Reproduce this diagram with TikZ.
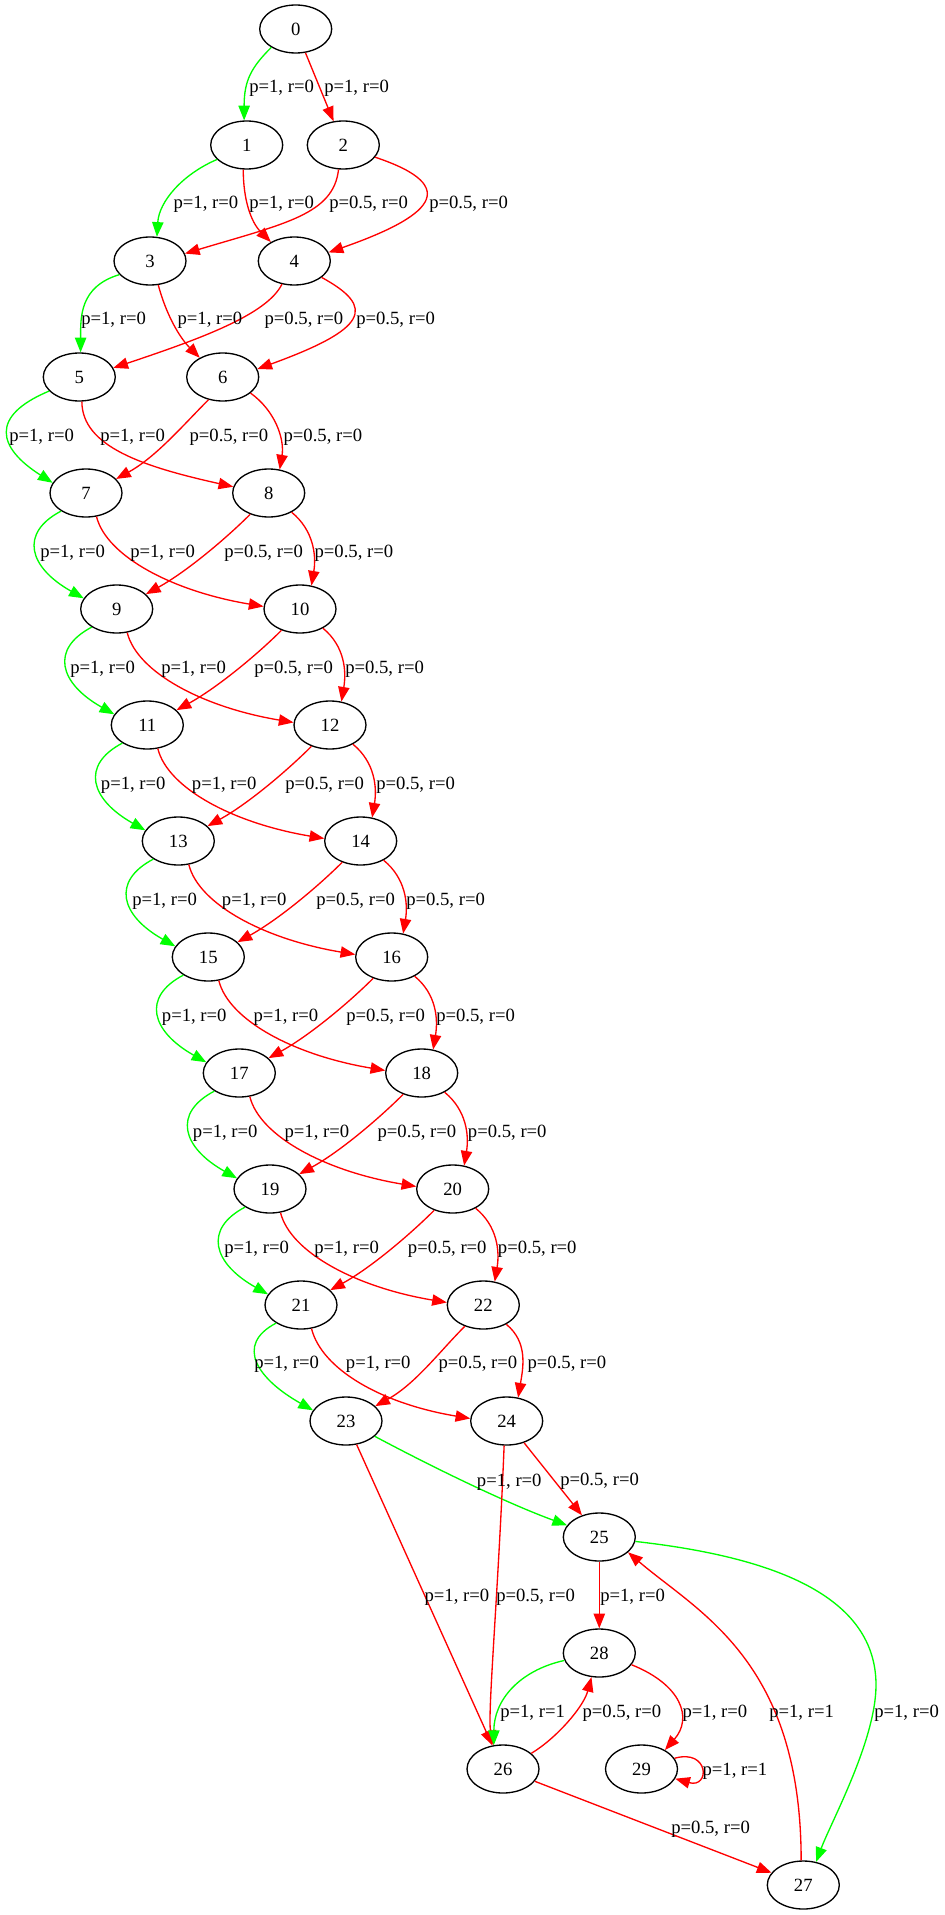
\documentclass[tikz,border=0pt]{standalone}
\usepackage{fontspec}
\setmainfont{Liberation Serif}
\usetikzlibrary{shapes.geometric,arrows.meta}
\newcommand\lfs{\fontsize{14}{17}\selectfont}
\tikzset{
  st/.style={ellipse, draw=black, line width=1pt, minimum width=54pt, minimum height=36pt, inner sep=0pt, font=\lfs},
  ge/.style={color=green, line width=1pt, -{Triangle[length=11pt,width=8.5pt]}},
  re/.style={color=red, line width=1pt, -{Triangle[length=11pt,width=8.5pt]}},
  lb/.style={anchor=base west, inner sep=0pt, font=\lfs}
}
\begin{document}
\begin{tikzpicture}[x=0.75pt,y=-0.75pt]
\useasboundingbox (0,0) rectangle (945,1915);
% nodes
\node[st] (n0) at (295.7,29) {0};
\node[st] (n1) at (246.7,145) {1};
\node[st] (n2) at (343.3,145) {2};
\node[st] (n3) at (150,261) {3};
\node[st] (n4) at (294.3,261) {4};
\node[st] (n5) at (79.3,377) {5};
\node[st] (n6) at (222.7,377) {6};
\node[st] (n7) at (86,493) {7};
\node[st] (n8) at (268.7,493) {8};
\node[st] (n9) at (116.7,609) {9};
\node[st] (n10) at (300,609) {10};
\node[st] (n11) at (147.3,725) {11};
\node[st] (n12) at (330,725) {12};
\node[st] (n13) at (178.3,841) {13};
\node[st] (n14) at (360.7,841) {14};
\node[st] (n15) at (208.3,957) {15};
\node[st] (n16) at (391.7,957) {16};
\node[st] (n17) at (239.3,1073) {17};
\node[st] (n18) at (421.7,1073) {18};
\node[st] (n19) at (270,1189) {19};
\node[st] (n20) at (452.7,1189) {20};
\node[st] (n21) at (301,1305) {21};
\node[st] (n22) at (483.3,1305) {22};
\node[st] (n23) at (346,1421) {23};
\node[st] (n24) at (506.7,1421) {24};
\node[st] (n25) at (599.3,1537) {25};
\node[st] (n28) at (599.3,1653) {28};
\node[st] (n26) at (503,1769) {26};
\node[st] (n29) at (641.5,1769) {29};
\node[st] (n27) at (803.3,1885) {27};
\coordinate (k25) at (876,1685);
% top special edges
\draw[ge] (n0.217) .. controls +(-20,20) and +(0,-40) .. (n1.96);
\draw[re] (n0) -- (n2);
\draw[ge] (n1.206) .. controls +(-35,15) and +(2,-35) .. (n3.74);
\draw[re] (n1.262) .. controls +(0,30) and +(-20,-20) .. (n4.141);
\draw[re] (n2.259) .. controls +(-5,45) and +(100,-30) .. (n3.12);
\draw[re] (n2.339) .. controls +(90,30) and +(100,-35) .. (n4.14);
\draw[ge] (n3.204) .. controls +(-40,12) and +(0,-35) .. (n5.87);
\draw[re] (n3.289) .. controls +(8,30) and +(-20,-20) .. (n6.140);
\draw[re] (n4.242) .. controls +(-15,30) and +(90,-30) .. (n5.15);
\draw[re] (n4.329) .. controls +(55,30) and +(110,-40) .. (n6.13);
\draw[ge] (n5.205) .. controls +(-60,25) and +(-55,-35) .. (n7.163);
\draw[re] (n5.276) .. controls +(0,45) and +(-90,-20) .. (n8.170);
\draw[re] (n6.238) .. controls +(-25,25) and +(40,-22) .. (n7.25);
\draw[re] (n6.330) .. controls +(25,18) and +(5,-30) .. (n8.65);
% repeated lattice
\foreach \a/\b/\c/\d in {7/8/9/10,9/10/11/12,11/12/13/14,13/14/15/16,15/16/17/18,17/18/19/20,19/20/21/22,21/22/23/24}{
  \draw[ge] (n\a.216) .. controls +(-42,22) and +(-55,-31) .. (n\c.162);
  \draw[re] (n\a.294) .. controls +(10,40) and +(-90,-15) .. (n\d.176);
  \draw[re] (n\b.229) .. controls +(-25,25) and +(40,-22) .. (n\c.27);
  \draw[re] (n\b.320) .. controls +(22,18) and +(5,-30) .. (n\d.64);
}
% bottom
\draw[ge] (n23.332) .. controls +(60,32) and +(-60,-22) .. (n25.160);
\draw[re] (n23) -- (n26);
\draw[re] (n24) -- (n25);
\draw[re] (n24.264) .. controls +(-6,150) and +(-6,-30) .. (n26.112);
\draw[re] (n25) -- (n28);
\draw[ge] (n28.192) .. controls +(-45,10) and +(0,-45) .. (n26.111);
\draw[re] (n26.29) .. controls +(25,-15) and +(-8,30) .. (n28.252);
\draw[re] (n28.340) .. controls +(50,20) and +(28,-32) .. (n29.39);
\draw[re] (n29.18) .. controls +(35,-10) and +(35,10) .. (n29.-16);
\draw[re] (n27.95) .. controls +(0,-200) and +(70,60) .. (n25.332);
\draw[ge] (n25.353) .. controls +(124,14) and +(0,-95) .. (k25) .. controls +(0,55) and +(15,-40) .. (n27.61);
\draw[re] (n26) -- (n27);
% labels
\node[lb] (l01) at (249,93) {p=1, r=0};
\node[lb] (l02) at (324,93) {p=1, r=0};
\node[lb] (l13) at (173.3,209) {p=1, r=0};
\node[lb] (l14) at (249,209) {p=1, r=0};
\node[lb] (l23) at (329,209) {p=0.5, r=0};
\node[lb] (l24) at (429,209) {p=0.5, r=0};
\node[lb] (l35) at (81,325) {p=1, r=0};
\node[lb] (l36) at (177.3,325) {p=1, r=0};
\node[lb] (l45) at (264.3,325) {p=0.5, r=0};
\node[lb] (l46) at (356,325) {p=0.5, r=0};
\node[lb] (l57) at (9,441) {p=1, r=0};
\node[lb] (l58) at (100,441) {p=1, r=0};
\node[lb] (l67) at (189.3,441) {p=0.5, r=0};
\node[lb] (l68) at (283.3,441) {p=0.5, r=0};
\foreach \y/\g/\p/\c/\s in {551/40/130/224/314.3,667/70/161/254/345,783/100.7/191.7/285/376,899/132/221.7/316/406,1015/161.7/253.3/346/436,1131/192.7/284.3/377.3/467.7,1247/224/314/407.7/497.7,1362/254/345.7/438.3/527.3}{
  \node[lb] (lg\y) at (\g,{\y+6}) {p=1, r=0};
  \node[lb] (lp\y) at (\p,{\y+6}) {p=1, r=0};
  \node[lb] (lc\y) at (\c,{\y+6}) {p=0.5, r=0};
  \node[lb] (ls\y) at (\s,{\y+6}) {p=0.5, r=0};
}
\node[lb] (l2325) at (476.7,1486) {p=1, r=0};
\node[lb] (l2425) at (560,1485) {p=0.5, r=0};
\node[lb] (l2326) at (424.3,1601) {p=1, r=0};
\node[lb] (l2426) at (496,1601) {p=0.5, r=0};
\node[lb] (l2528) at (600,1601) {p=1, r=0};
\node[lb] (l2826) at (500,1717) {p=1, r=1};
\node[lb] (l2628) at (582.3,1717) {p=0.5, r=0};
\node[lb] (l2829) at (682.3,1717) {p=1, r=0};
\node[lb] (l2725) at (769,1717) {p=1, r=1};
\node[lb] (l2527) at (874,1717) {p=1, r=0};
\node[lb] (l2929) at (702.3,1775) {p=1, r=1};
\node[lb] (l2627) at (671,1833) {p=0.5, r=0};
\end{tikzpicture}
\end{document}
